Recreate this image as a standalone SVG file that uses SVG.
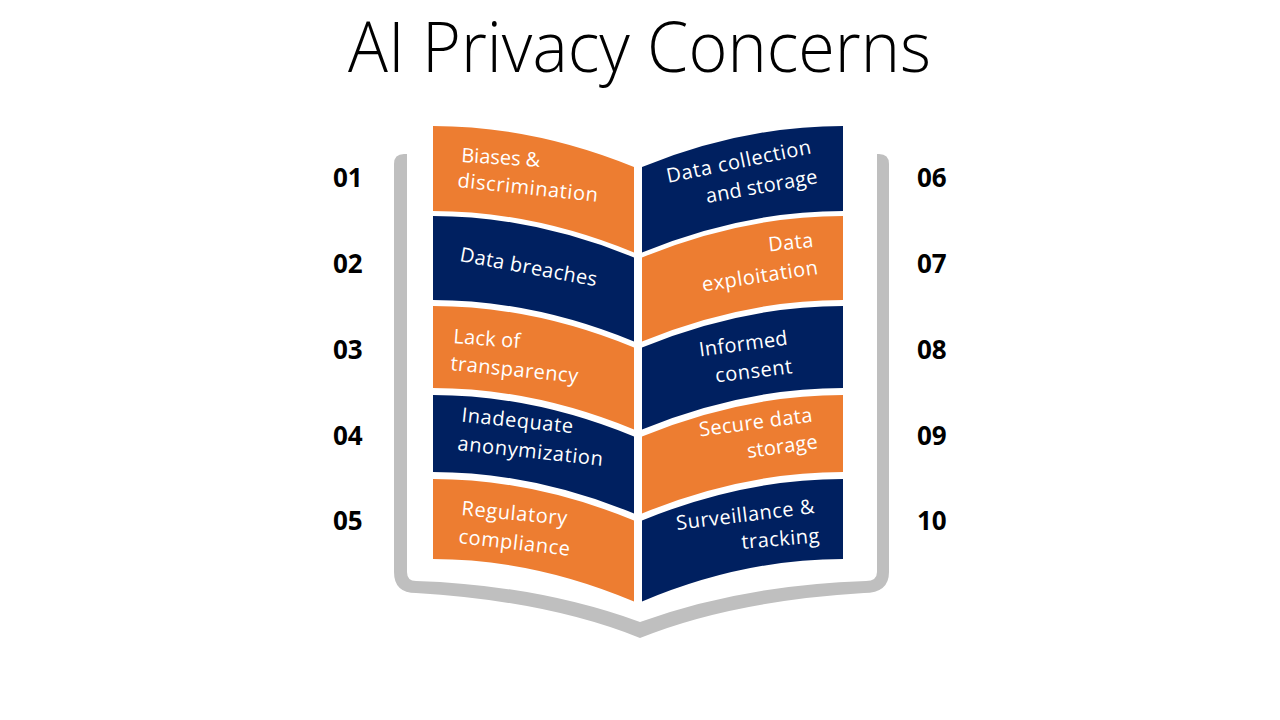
<svg xmlns="http://www.w3.org/2000/svg" width="1280" height="720" viewBox="0 0 1280 720">
<style>
.or{fill:#ED7D31}
.nv{fill:#002060}
.t{font-family:"Open Sans","Liberation Sans",sans-serif;font-size:20px;fill:#FFFFFF}
.num{font-family:"Open Sans","Liberation Sans",sans-serif;font-size:26px;font-weight:700;fill:#000000}
.title{font-family:"Open Sans","Liberation Sans",sans-serif;font-size:70px;font-weight:300;fill:#000000}
</style>
<rect width="1280" height="720" fill="#FFFFFF"/>
<text class="title" x="348" y="72" textLength="583" lengthAdjust="spacingAndGlyphs">AI Privacy Concerns</text>
<g id="book-frame">
<path fill="#BFBFBF" d="M407,154 L404,154 Q394,154 394,164 L394,572 Q394,593 416,593 Q548,601 640,638 Q732,601 864,593 Q889,593 889,572 L889,164 Q889,154 879,154 L877,154 L877,572 Q877,581 866,581 Q742,585 640,622 Q538,585 416,581 Q407,581 407,572 Z"/>
</g>
<g id="n01">
<path class="or" d="M433,126 Q533,126 634,167 L634,252.5 Q533,211 433,211 Z"/>
<text class="t" x="461" y="162" transform="rotate(3.5 461 162)" textLength="79">Biases &amp;</text>
<text class="t" x="457" y="187" transform="rotate(6 457 187)" textLength="141">discrimination</text>
<text class="num" x="333" y="186.5">01</text>
</g>
<g id="n02">
<path class="nv" d="M433,216 Q533,216 634,257.5 L634,341.5 Q533,300 433,300 Z"/>
<text class="t" x="459" y="261" transform="rotate(10.5 459 261)" textLength="139">Data breaches</text>
<text class="num" x="333" y="272.5">02</text>
</g>
<g id="n03">
<path class="or" d="M433,306 Q533,306 634,347.5 L634,429.5 Q533,388 433,388 Z"/>
<text class="t" x="453" y="343" transform="rotate(4.3 453 343)" textLength="67">Lack of</text>
<text class="t" x="450" y="370" transform="rotate(5.7 450 370)" textLength="128">transparency</text>
<text class="num" x="333" y="358.5">03</text>
</g>
<g id="n04">
<path class="nv" d="M433,395 Q533,395 634,436.5 L634,513.5 Q533,472 433,472 Z"/>
<text class="t" x="461" y="421.5" transform="rotate(6 461 421.5)" textLength="112">Inadequate</text>
<text class="t" x="457" y="450" transform="rotate(6.2 457 450)" textLength="146">anonymization</text>
<text class="num" x="333" y="444.5">04</text>
</g>
<g id="n05">
<path class="or" d="M433,479 Q533,479 634,520.5 L634,601.5 Q533,559 433,559 Z"/>
<text class="t" x="461" y="515" transform="rotate(5.4 461 515)" textLength="106">Regulatory</text>
<text class="t" x="458" y="543" transform="rotate(6.5 458 543)" textLength="112">compliance</text>
<text class="num" x="333" y="529.5">05</text>
</g>
<g id="n06">
<path class="nv" d="M843,126 Q743,126 642,167 L642,252.5 Q743,211 843,211 Z"/>
<text class="t" x="668" y="183" transform="rotate(-11.7 668 183)" textLength="147">Data collection</text>
<text class="t" x="707" y="203" transform="rotate(-10.2 707 203)" textLength="113">and storage</text>
<text class="num" x="917" y="186.5">06</text>
</g>
<g id="n07">
<path class="or" d="M843,216 Q743,216 642,257.5 L642,341.5 Q743,300 843,300 Z"/>
<text class="t" x="769" y="251.5" transform="rotate(-6 769 251.5)" textLength="45">Data</text>
<text class="t" x="703" y="291.5" transform="rotate(-8.7 703 291.5)" textLength="117">exploitation</text>
<text class="num" x="917" y="272.5">07</text>
</g>
<g id="n08">
<path class="nv" d="M843,306 Q743,306 642,347.5 L642,429.5 Q743,388 843,388 Z"/>
<text class="t" x="700" y="356.5" transform="rotate(-7.6 700 356.5)" textLength="89">Informed</text>
<text class="t" x="716" y="382.5" transform="rotate(-7 716 382.5)" textLength="77.5">consent</text>
<text class="num" x="917" y="358.5">08</text>
</g>
<g id="n09">
<path class="or" d="M843,395 Q743,395 642,436.5 L642,513.5 Q743,472 843,472 Z"/>
<text class="t" x="700" y="436.5" transform="rotate(-7.6 700 436.5)" textLength="114">Secure data</text>
<text class="t" x="748" y="458" transform="rotate(-8 748 458)" textLength="71">storage</text>
<text class="num" x="917" y="444.5">09</text>
</g>
<g id="n10">
<path class="nv" d="M843,479 Q743,479 642,520.5 L642,601.5 Q743,559 843,559 Z"/>
<text class="t" x="677" y="530" transform="rotate(-7 677 530)" textLength="139">Surveillance &amp;</text>
<text class="t" x="742" y="549" transform="rotate(-5 742 549)" textLength="78">tracking</text>
<text class="num" x="917" y="529.5">10</text>
</g>
</svg>
